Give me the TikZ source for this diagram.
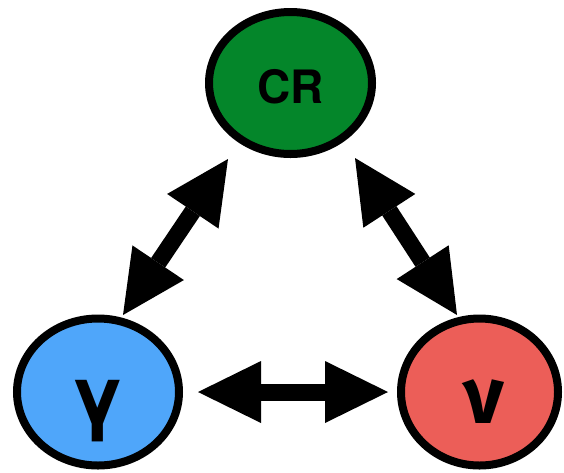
\documentclass[tikz,border=0pt]{standalone}
\usepackage{fontspec}
\setmainfont{TeX Gyre Heros}
\newfontfamily\nufont{Fira Sans}
\usetikzlibrary{arrows.meta,shapes.geometric}
\definecolor{crgreen}{RGB}{4,134,42}
\definecolor{gblue}{RGB}{79,166,250}
\definecolor{nred}{RGB}{236,94,88}
\begin{document}
\begin{tikzpicture}[x=1pt,y=-1pt,
  circ/.style={ellipse, draw=black, line width=8pt, inner sep=0pt, text depth=0pt},
  dbl/.style={line width=17pt, draw=black, {Triangle[length=63pt,width=62pt,line width=0pt]}-{Triangle[length=63pt,width=62pt,line width=0pt]}}]
\useasboundingbox (0,0) rectangle (564,472);
\node[circ, fill=crgreen, minimum width=163pt, minimum height=142pt, text height=40pt,
  font=\bfseries\fontsize{46}{46}\selectfont] (cr) at (290.5,83) {CR};
\node[circ, fill=gblue, minimum width=162pt, minimum height=147pt, text height=62pt,
  font=\bfseries\fontsize{80}{80}\selectfont] (g) at (98,392) {γ};
\node[circ, fill=nred, minimum width=157pt, minimum height=147pt, text height=62pt,
  font=\nufont\bfseries\fontsize{80}{80}\selectfont] (n) at (479.5,392) {\hspace*{8pt}ν};
\coordinate (gtop) at (123,315);
\coordinate (crleft) at (228,159);
\coordinate (crright) at (355,158);
\coordinate (ntop) at (457,315);
\coordinate (gright) at (198,392);
\coordinate (nleft) at (388,392);
\draw[dbl] (gtop) -- (crleft);
\draw[dbl] (crright) -- (ntop);
\draw[dbl] (gright) -- (nleft);
\end{tikzpicture}
\end{document}
